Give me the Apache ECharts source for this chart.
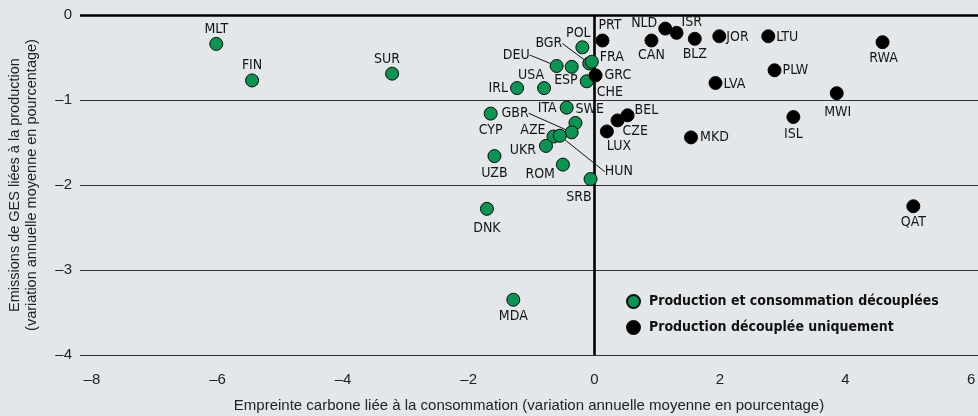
<!DOCTYPE html>
<html>
<head>
<meta charset="utf-8">
<script src="https://cdn.jsdelivr.net/npm/echarts@6/dist/echarts.min.js"></script>
<style>
html,body{margin:0;padding:0;background:#e3e7e9;}
#chart{width:978px;height:416px;}
</style>
</head>
<body>
<div id="chart"></div>
<script>
// ---- Data ----
const greenCodes = ['MLT','FIN','SUR','POL','BGR','DEU','FRA','ESP','CHE','USA','IRL','ITA','SWE','CYP','GBR','AZE','HUN','UKR','UZB','ROM','SRB','DNK','MDA'];
const greenX = [-6.02,-5.45,-3.22,-0.19,-0.08,-0.60,-0.04,-0.36,-0.12,-0.80,-1.23,-0.44,-0.30,-1.65,-0.36,-0.65,-0.55,-0.77,-1.59,-0.50,-0.06,-1.71,-1.29];
const greenY = [-0.34,-0.77,-0.69,-0.38,-0.57,-0.60,-0.55,-0.61,-0.78,-0.86,-0.86,-1.09,-1.27,-1.16,-1.38,-1.43,-1.42,-1.54,-1.66,-1.76,-1.93,-2.28,-3.35];

const blackCodes = ['PRT','NLD','ISR','CAN','BLZ','JOR','LTU','RWA','PLW','LVA','MWI','ISL','MKD','QAT','BEL','CZE','LUX','GRC'];
const blackX = [0.13,1.13,1.31,0.91,1.60,1.99,2.77,4.59,2.87,1.93,3.86,3.17,1.54,5.08,0.53,0.37,0.20,0.02];
const blackY = [-0.30,-0.16,-0.21,-0.30,-0.28,-0.25,-0.25,-0.32,-0.65,-0.80,-0.92,-1.20,-1.44,-2.25,-1.18,-1.24,-1.37,-0.71];

const xTicks = [-8,-6,-4,-2,0,2,4,6];
const seriesNames = ['Production et consommation découplées','Production découplée uniquement'];
const xTitle = 'Empreinte carbone liée à la consommation (variation annuelle moyenne en pourcentage)';
const yTitle = 'Emissions de GES liées à la production\n(variation annuelle moyenne en pourcentage)';

// ---- Label layout: [dx, dy, anchor] pixel offsets from point centre ----
// anchor: 'c' label centre, 'l' label left edge, 'r' label right edge
const LABEL_OFF = {
  MLT:[0,-15,'c'], FIN:[0,-15,'c'], SUR:[-5,-14,'c'], POL:[-4,-14,'c'],
  BGR:[-27,-20,'r'], DEU:[-27,-11,'r'], FRA:[8,-4,'l'], ESP:[6,14,'r'],
  CHE:[10,11,'l'], USA:[0,-13,'r'], IRL:[-9,0,'r'], ITA:[-10,1,'r'],
  SWE:[0,-14,'l'], CYP:[0,17,'c'], GBR:[-43,-19,'r'], AZE:[-8,-6,'r'],
  HUN:[45,36,'l'], UKR:[-10,4,'r'], UZB:[0,17,'c'], ROM:[-8,10,'r'],
  SRB:[1,18,'r'], DNK:[0,20,'c'], MDA:[0,17,'c'],
  PRT:[-4,-15,'l'], NLD:[-8,-5,'r'], ISR:[5,-10,'l'], CAN:[0,15,'c'],
  BLZ:[0,16,'c'], JOR:[7,1,'l'], LTU:[8,1,'l'], RWA:[1,16,'c'], PLW:[8,0,'l'],
  LVA:[8,1,'l'], MWI:[1,19,'c'], ISL:[0,17,'c'], MKD:[9,0,'l'], QAT:[0,16,'c'],
  BEL:[7,-5,'l'], CZE:[5,11,'l'], LUX:[0,15,'l'], GRC:[9,0,'l']
};
const LEADER = {BGR:true, DEU:true, GBR:true, HUN:true};
const ALIGN = {c:'center', l:'left', r:'right'};

const narrow = '"Liberation Sans Narrow", "Arial Narrow", "DejaVu Sans Condensed", sans-serif';
const sans = '"Liberation Sans", Arial, sans-serif';

function buildData(codes, xs, ys){
  return codes.map((c,i)=>{
    const o = LABEL_OFF[c] || [0,0,'c'];
    const item = {name:c, value:[xs[i], ys[i]], label:{align: ALIGN[o[2]]}};
    if (LEADER[c]) item.labelLine = {show:true, lineStyle:{color:'#111', width:1}};
    return item;
  });
}
const codesBySeries = [greenCodes, blackCodes];

function seriesOf(idx, color, data){
  return {
    name: seriesNames[idx],
    type: 'scatter',
    z: 3,
    symbol: 'circle',
    symbolSize: 13,
    itemStyle: {color: color, borderColor:'#0a0a0a', borderWidth: 1, opacity: 1},
    data: data,
    label: {
      show: true,
      position: 'inside',
      formatter: p => p.name,
      color: '#151515',
      fontFamily: narrow,
      fontSize: 14,
      verticalAlign: 'middle'
    },
    labelLayout: function(params){
      const code = codesBySeries[idx][params.dataIndex];
      const o = LABEL_OFF[code] || [0,0];
      return {dx:o[0], dy:o[1], moveOverlap: false};
    },
    emphasis: {disabled: true}
  };
}

const chart = echarts.init(document.getElementById('chart'), null, {renderer:'canvas'});
const s0 = seriesOf(0, '#0b9553', buildData(greenCodes, greenX, greenY));
s0.markLine = {
  silent: true,
  z: 1,
  symbol: 'none',
  label: {show:false},
  lineStyle: {color:'#000', width:2.6, type:'solid'},
  data: [{xAxis:0}, {yAxis:0}]
};
const s1 = seriesOf(1, '#000000', buildData(blackCodes, blackX, blackY));

chart.setOption({
  backgroundColor: '#e3e7e9',
  animation: false,
  grid: {left:80, right:0, top:15, bottom:61, containLabel:false, outerBoundsMode:'none'},
  legend: {
    orient: 'vertical',
    left: 621,
    top: 289,
    itemWidth: 13,
    itemHeight: 13,
    itemGap: 11,
    icon: 'circle',
    textStyle: {fontFamily: narrow, fontWeight:'bold', fontSize:14, color:'#111', padding:[0,0,0,4]},
    data: seriesNames
  },
  xAxis: {
    type: 'value',
    min: -8.19,
    max: 6.11,
    axisLine: {show:false},
    axisTick: {show:false},
    splitLine: {show:false},
    axisLabel: {
      customValues: xTicks,
      margin: 17,
      fontFamily: sans,
      fontSize: 15,
      color: '#222',
      formatter: v => v < 0 ? '\u2013' + Math.abs(v) : String(v)
    },
    name: xTitle,
    nameLocation: 'middle',
    nameGap: 43,
    nameTextStyle: {fontFamily: sans, fontSize: 15, color:'#222'}
  },
  yAxis: {
    type: 'value',
    min: -4,
    max: 0,
    interval: 1,
    axisLine: {show:false},
    axisTick: {show:false},
    splitLine: {show:true, lineStyle:{color:'#333', width:1}},
    axisLabel: {
      margin: 8,
      fontFamily: sans,
      fontSize: 15,
      color: '#222',
      formatter: v => v < 0 ? '\u2013' + Math.abs(v) : String(v)
    },
    name: yTitle,
    nameLocation: 'middle',
    nameRotate: 90,
    nameGap: 40,
    nameTextStyle: {fontFamily: sans, fontSize: 14.5, color:'#222', lineHeight: 17, align:'center'}
  },
  series: [s0, s1]
});
</script>
</body>
</html>
